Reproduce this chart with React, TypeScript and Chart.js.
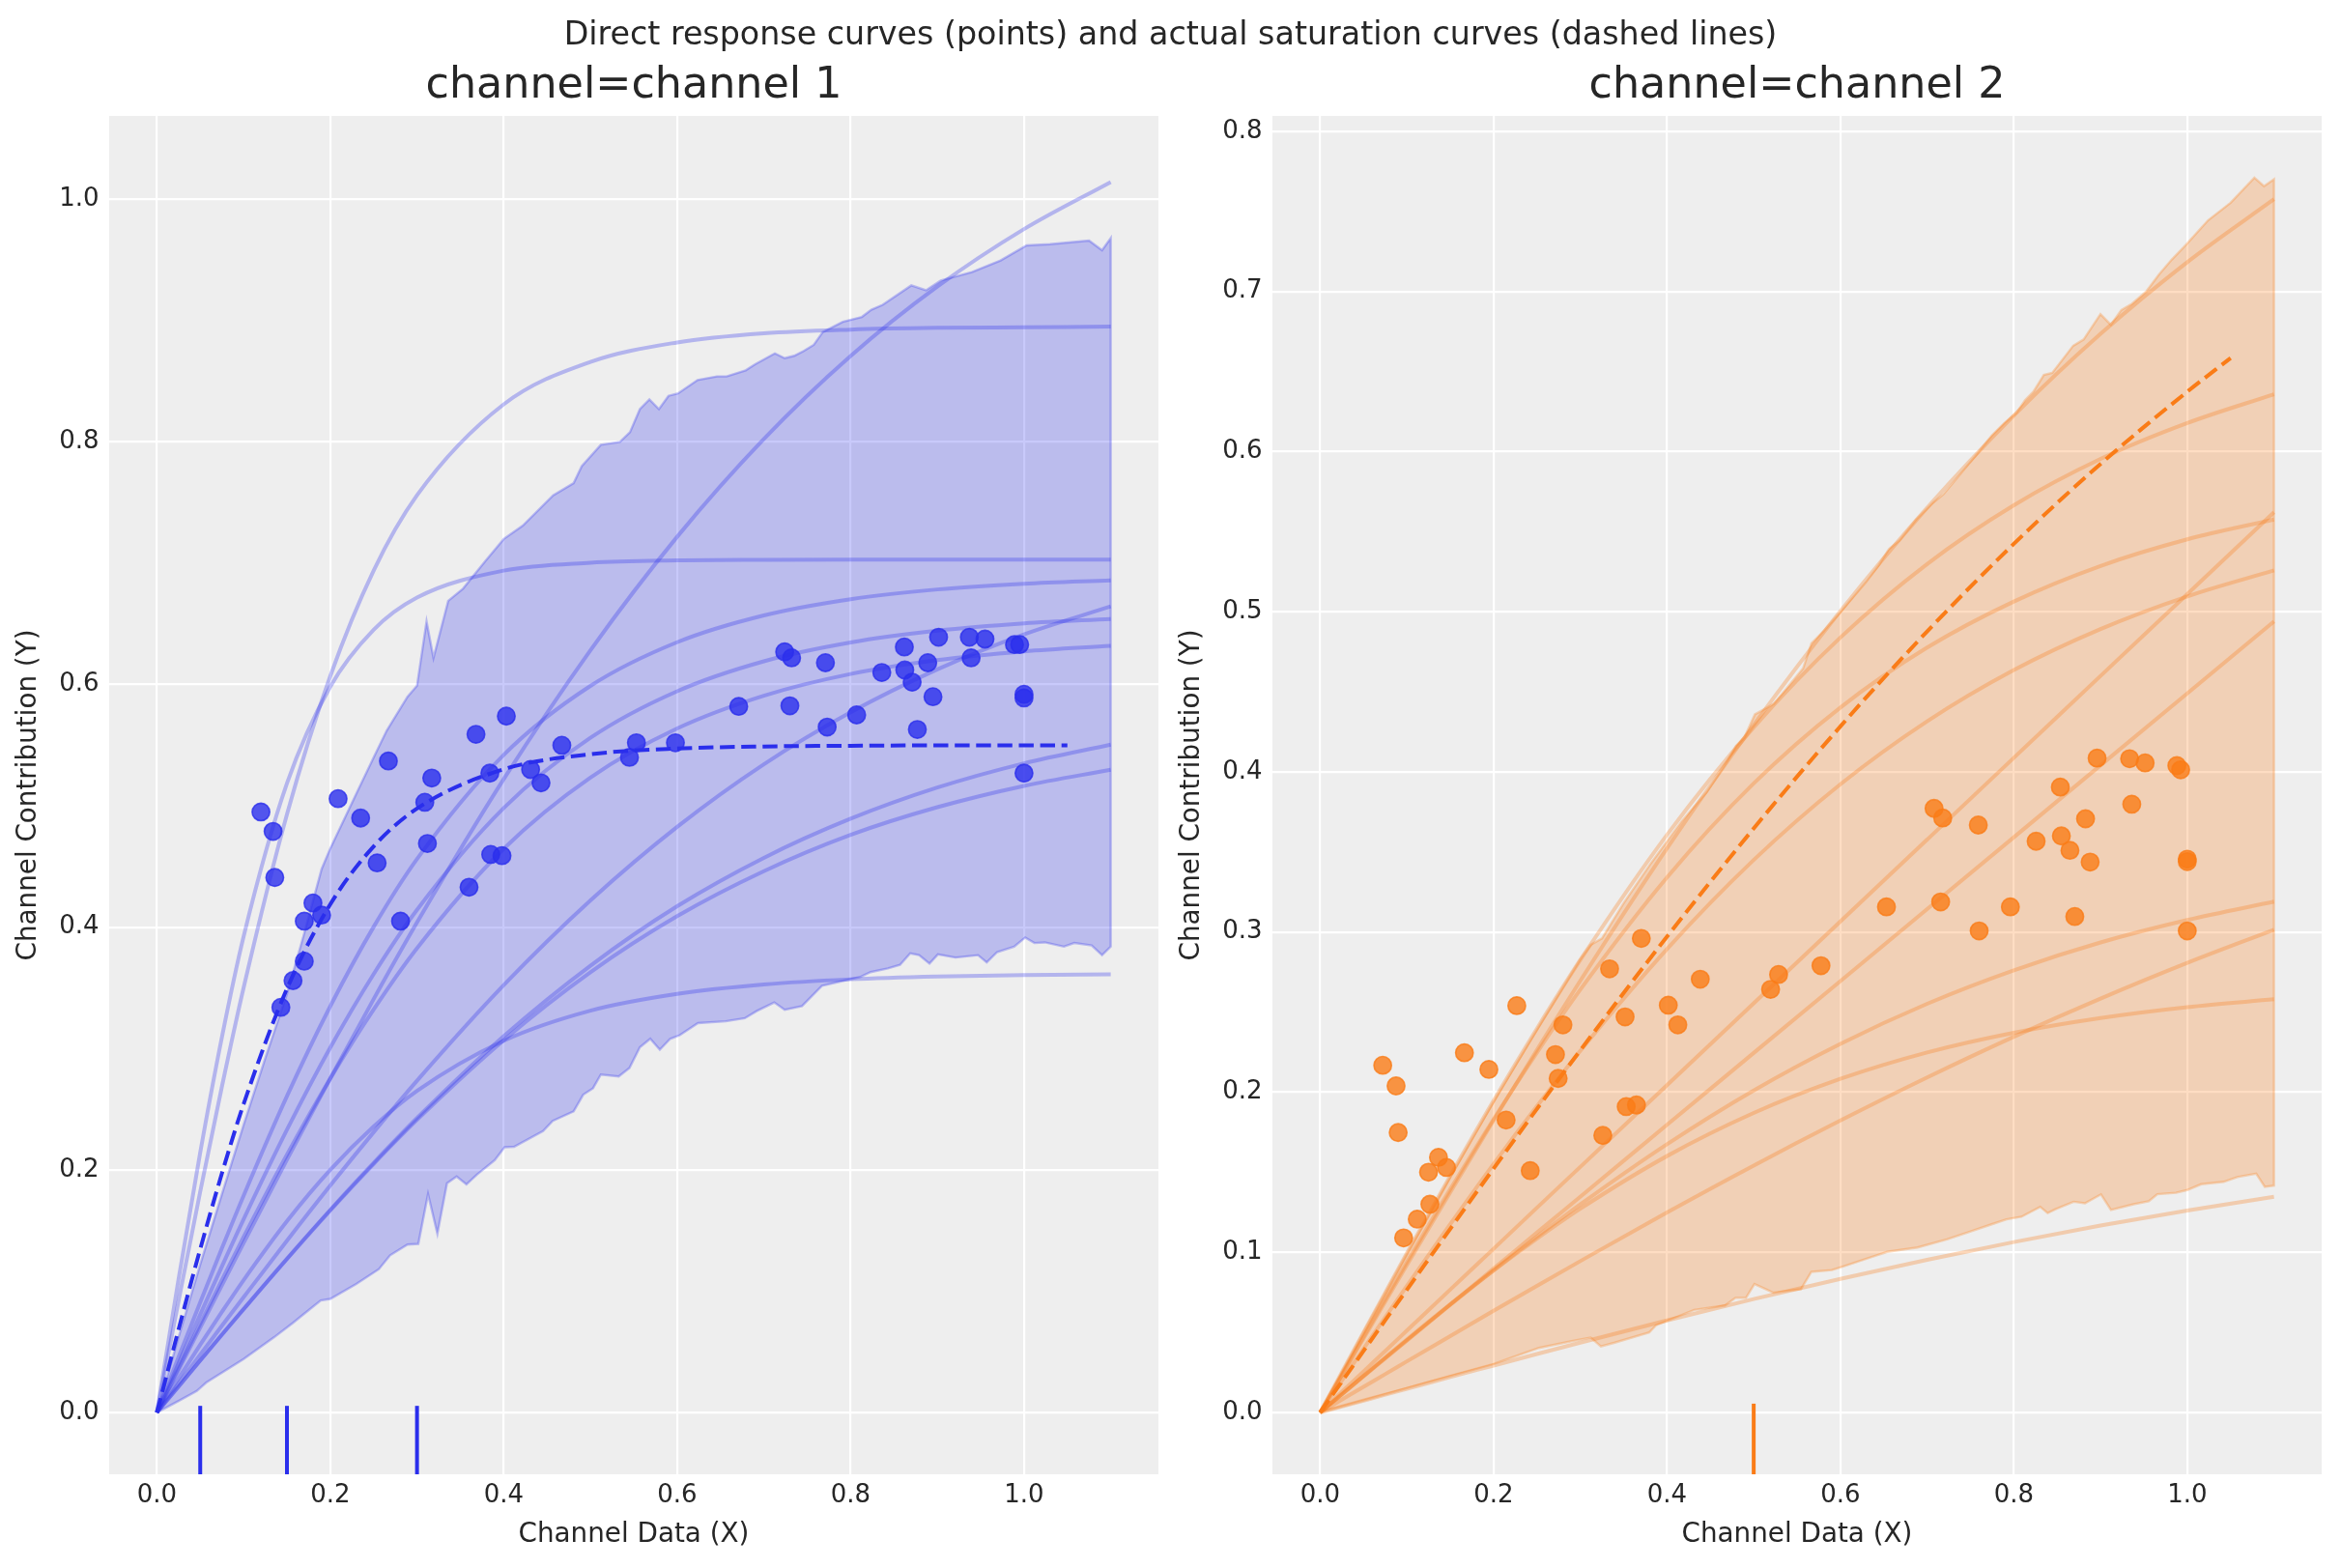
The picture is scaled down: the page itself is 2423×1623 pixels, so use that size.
import React, { useEffect, useRef } from 'react';
import { Chart, registerables } from 'chart.js';
Chart.register(...registerables);

// ---------- data ----------
const X_GRID = [0, 0.025, 0.05, 0.075, 0.1, 0.15, 0.2, 0.25, 0.3, 0.4, 0.5, 0.6, 0.7, 0.8, 0.9, 1.0, 1.1];

// channel 1 sampled curves
const C1 = [0, 0.0351, 0.0701, 0.105, 0.1397, 0.2084, 0.2755, 0.3408, 0.4039, 0.5221, 0.6283, 0.7218, 0.8024, 0.8708, 0.928, 0.9754, 1.0142];
const C2 = [0, 0.0918, 0.1822, 0.2686, 0.35, 0.493, 0.607, 0.694, 0.756, 0.831, 0.866, 0.882, 0.8895, 0.8926, 0.894, 0.8945, 0.895];
const C3 = [0, 0.1098, 0.2144, 0.3094, 0.3923, 0.5185, 0.5983, 0.6452, 0.6717, 0.6939, 0.7004, 0.7023, 0.7028, 0.703, 0.703, 0.703, 0.703];
const C4 = [0, 0.0457, 0.0909, 0.1354, 0.1787, 0.2607, 0.3349, 0.4003, 0.4562, 0.5421, 0.5989, 0.6349, 0.657, 0.6704, 0.6784, 0.6831, 0.6859];
const C5 = [0, 0.0405, 0.0808, 0.1204, 0.1592, 0.233, 0.3008, 0.3614, 0.4143, 0.4982, 0.5561, 0.5945, 0.6192, 0.6347, 0.6444, 0.6504, 0.6541];
const C6 = [0, 0.0239, 0.0477, 0.0715, 0.095, 0.1416, 0.1871, 0.2311, 0.2735, 0.3523, 0.4221, 0.4827, 0.5343, 0.5771, 0.6125, 0.6414, 0.6644];
const C7 = [0, 0.0368, 0.0733, 0.1093, 0.1446, 0.2125, 0.2753, 0.3322, 0.3827, 0.4647, 0.5234, 0.5638, 0.5908, 0.6087, 0.6201, 0.6273, 0.6319];
const C8 = [0, 0.0214, 0.0428, 0.0641, 0.0852, 0.1268, 0.1671, 0.2058, 0.2427, 0.3102, 0.3683, 0.4173, 0.4572, 0.4894, 0.5151, 0.5351, 0.5505];
const C9 = [0, 0.0214, 0.0428, 0.0641, 0.0852, 0.1265, 0.1666, 0.2049, 0.2412, 0.3069, 0.3629, 0.4091, 0.4462, 0.4761, 0.4989, 0.5165, 0.5298];
const C10 = [0, 0.0281, 0.0559, 0.0829, 0.1091, 0.1577, 0.2, 0.2357, 0.2651, 0.3064, 0.3312, 0.345, 0.3528, 0.3571, 0.3594, 0.3606, 0.3612];

// channel 2 sampled curves
const R1 = [0, 0.0231, 0.0461, 0.0691, 0.092, 0.1374, 0.1823, 0.2264, 0.2695, 0.3522, 0.4293, 0.5004, 0.5649, 0.6225, 0.6735, 0.7183, 0.7576];
const R2 = [0, 0.025, 0.0499, 0.0747, 0.0994, 0.1477, 0.1947, 0.2397, 0.2825, 0.3607, 0.4278, 0.4839, 0.5298, 0.5665, 0.5954, 0.6178, 0.6358];
const R3 = [0, 0.0236, 0.0472, 0.0706, 0.0938, 0.1393, 0.1831, 0.2247, 0.264, 0.3341, 0.3928, 0.4402, 0.4776, 0.5064, 0.5286, 0.5452, 0.5576];
const R4 = [0, 0.0128, 0.0256, 0.0383, 0.0511, 0.0767, 0.1022, 0.1278, 0.1533, 0.2044, 0.2555, 0.3066, 0.3577, 0.4088, 0.4599, 0.511, 0.5621];
const R5 = [0, 0.0199, 0.0397, 0.0594, 0.079, 0.1175, 0.1551, 0.1912, 0.2258, 0.2894, 0.345, 0.3923, 0.4316, 0.4636, 0.4892, 0.5096, 0.5258];
const R6 = [0, 0.0112, 0.0225, 0.0337, 0.0449, 0.0674, 0.0898, 0.1123, 0.1347, 0.1796, 0.2245, 0.2694, 0.3143, 0.3592, 0.4041, 0.449, 0.4939];
const R7 = [0, 0.0113, 0.0226, 0.0339, 0.0451, 0.0672, 0.0888, 0.1097, 0.1299, 0.1675, 0.2011, 0.2302, 0.2552, 0.2761, 0.2935, 0.3075, 0.319];
const R8 = [0, 0.008, 0.016, 0.0239, 0.0319, 0.0477, 0.0635, 0.0791, 0.0945, 0.1249, 0.1542, 0.1823, 0.2092, 0.2346, 0.2584, 0.2807, 0.3014];
const R9 = [0, 0.0115, 0.0229, 0.0343, 0.0456, 0.0675, 0.0886, 0.1085, 0.1272, 0.1601, 0.187, 0.2083, 0.2248, 0.2371, 0.2463, 0.2531, 0.258];
const R10 = [0, 0.0037, 0.0074, 0.0111, 0.0147, 0.0221, 0.0293, 0.0365, 0.0436, 0.0575, 0.0708, 0.0834, 0.0953, 0.1064, 0.1167, 0.1261, 0.1347];

// actual saturation curves (dashed)
const DASH_X = [0, 0.025, 0.05, 0.075, 0.1, 0.15, 0.2, 0.25, 0.3, 0.4, 0.5, 0.6, 0.7, 0.8, 0.9, 1.0, 1.05];
const DASH1_Y = [0, 0.0684, 0.1347, 0.1971, 0.2542, 0.3493, 0.4189, 0.4666, 0.4978, 0.5302, 0.5426, 0.5473, 0.549, 0.5496, 0.5499, 0.55, 0.55];
const DASH2_Y = [0, 0.0192, 0.0384, 0.0575, 0.0766, 0.1146, 0.1523, 0.1895, 0.2261, 0.2971, 0.3647, 0.4284, 0.4877, 0.5424, 0.5923, 0.6374, 0.6584];

// HDI bands
const BAND1_UP_X = [0, 0.025, 0.05, 0.075, 0.1, 0.125, 0.15, 0.17, 0.19, 0.2, 0.23, 0.25, 0.265, 0.289, 0.3, 0.311, 0.319, 0.336, 0.353, 0.379, 0.4, 0.422, 0.457, 0.4806, 0.49, 0.512, 0.534, 0.5456, 0.557, 0.568, 0.579, 0.59, 0.601, 0.6236, 0.646, 0.657, 0.679, 0.69, 0.7127, 0.724, 0.735, 0.746, 0.7575, 0.768, 0.791, 0.813, 0.824, 0.837, 0.87, 0.887, 0.904, 0.94, 0.973, 1.003, 1.03, 1.06, 1.075, 1.09, 1.1];
const BAND1_UP_Y = [0, 0.062, 0.122, 0.18, 0.237, 0.292, 0.345, 0.395, 0.448, 0.465, 0.51, 0.54, 0.562, 0.59, 0.599, 0.652, 0.622, 0.669, 0.679, 0.702, 0.72, 0.731, 0.756, 0.766, 0.78, 0.7976, 0.8, 0.808, 0.827, 0.835, 0.827, 0.838, 0.84, 0.851, 0.854, 0.854, 0.859, 0.864, 0.873, 0.869, 0.871, 0.875, 0.88, 0.8906, 0.899, 0.903, 0.909, 0.913, 0.929, 0.925, 0.933, 0.94, 0.9496, 0.962, 0.963, 0.965, 0.966, 0.958, 0.968];
const BAND1_LO_X = [0, 0.025, 0.046, 0.057, 0.1, 0.135, 0.157, 0.169, 0.189, 0.2, 0.23, 0.256, 0.269, 0.289, 0.3015, 0.3127, 0.3235, 0.3346, 0.3457, 0.357, 0.369, 0.3896, 0.401, 0.412, 0.4453, 0.4565, 0.4806, 0.4917, 0.503, 0.512, 0.5326, 0.545, 0.557, 0.569, 0.58, 0.592, 0.603, 0.624, 0.656, 0.678, 0.692, 0.712, 0.724, 0.744, 0.767, 0.811, 0.823, 0.843, 0.857, 0.8688, 0.879, 0.891, 0.9007, 0.921, 0.947, 0.957, 0.969, 0.9886, 1.0014, 1.012, 1.024, 1.046, 1.058, 1.078, 1.09, 1.1];
const BAND1_LO_Y = [0, 0.0095, 0.0177, 0.0247, 0.044, 0.0619, 0.0739, 0.0809, 0.0924, 0.0936, 0.106, 0.1182, 0.1296, 0.1384, 0.139, 0.18, 0.1474, 0.189, 0.1945, 0.188, 0.196, 0.208, 0.2187, 0.219, 0.2319, 0.2404, 0.2482, 0.262, 0.2673, 0.2786, 0.277, 0.284, 0.301, 0.308, 0.299, 0.308, 0.311, 0.321, 0.3225, 0.325, 0.331, 0.338, 0.332, 0.335, 0.3517, 0.359, 0.363, 0.366, 0.369, 0.3785, 0.377, 0.37, 0.3776, 0.375, 0.377, 0.371, 0.3795, 0.384, 0.3915, 0.387, 0.3875, 0.384, 0.387, 0.385, 0.377, 0.384];
const BAND2_UP_X = [0, 0.05, 0.1, 0.15, 0.2, 0.25, 0.3, 0.312, 0.325, 0.35, 0.3815, 0.4169, 0.4459, 0.47, 0.4797, 0.4893, 0.5014, 0.5232, 0.557, 0.5666, 0.5811, 0.6004, 0.6294, 0.6439, 0.656, 0.668, 0.6873, 0.7067, 0.7187, 0.7308, 0.755, 0.7743, 0.7888, 0.8032, 0.8129, 0.8226, 0.8346, 0.8443, 0.8685, 0.8805, 0.8999, 0.9119, 0.924, 0.9361, 0.953, 0.9675, 0.982, 0.998, 1.024, 1.05, 1.0774, 1.0885, 1.1];
const BAND2_UP_Y = [0, 0.05, 0.099, 0.147, 0.194, 0.239, 0.283, 0.292, 0.296, 0.318, 0.343, 0.369, 0.3874, 0.407, 0.4162, 0.4215, 0.4359, 0.4424, 0.4646, 0.4803, 0.4882, 0.5, 0.5183, 0.5288, 0.5392, 0.5445, 0.5576, 0.568, 0.5733, 0.5811, 0.5968, 0.6099, 0.6177, 0.6243, 0.6321, 0.6374, 0.6479, 0.6491, 0.6661, 0.67, 0.6858, 0.6792, 0.6884, 0.6923, 0.7002, 0.7106, 0.7198, 0.7288, 0.7444, 0.7554, 0.771, 0.7657, 0.77];
const BAND2_LO_X = [0, 0.05, 0.1, 0.15, 0.2, 0.2523, 0.29, 0.3119, 0.3238, 0.3397, 0.3795, 0.3875, 0.4313, 0.467, 0.479, 0.4911, 0.5009, 0.5228, 0.5545, 0.5665, 0.59, 0.6024, 0.6367, 0.654, 0.689, 0.7228, 0.7486, 0.7744, 0.7916, 0.8088, 0.8304, 0.839, 0.848, 0.869, 0.882, 0.9005, 0.912, 0.938, 0.9556, 0.9655, 0.987, 1.0, 1.016, 1.042, 1.0577, 1.0795, 1.0894, 1.1];
const BAND2_LO_Y = [0, 0.0075, 0.0152, 0.0228, 0.0302, 0.0403, 0.0445, 0.0468, 0.0413, 0.0436, 0.05, 0.0545, 0.064, 0.0668, 0.0716, 0.0716, 0.0802, 0.0748, 0.077, 0.0878, 0.0889, 0.091, 0.0972, 0.1003, 0.103, 0.1081, 0.1128, 0.1175, 0.1206, 0.1222, 0.1284, 0.1245, 0.1269, 0.1316, 0.1306, 0.1362, 0.1265, 0.13, 0.1319, 0.1363, 0.1372, 0.1389, 0.1425, 0.144, 0.147, 0.1491, 0.1409, 0.1416];

// direct response points
const PTS1_X = [0.12, 0.134, 0.136, 0.18, 0.19, 0.17, 0.17, 0.157, 0.143, 0.209, 0.235, 0.267, 0.254, 0.281, 0.309, 0.317, 0.312, 0.368, 0.403, 0.384, 0.385, 0.398, 0.36, 0.431, 0.443, 0.467, 0.553, 0.545, 0.598, 0.671, 0.73, 0.724, 0.732, 0.771, 0.773, 0.807, 0.836, 0.862, 0.8625, 0.871, 0.877, 0.889, 0.895, 0.9015, 0.937, 0.939, 0.955, 0.989, 0.995, 1.0, 1.0, 1.0];
const PTS1_Y = [0.495, 0.479, 0.441, 0.42, 0.41, 0.405, 0.372, 0.356, 0.334, 0.506, 0.49, 0.537, 0.453, 0.405, 0.503, 0.523, 0.469, 0.559, 0.574, 0.527, 0.46, 0.459, 0.433, 0.53, 0.519, 0.55, 0.552, 0.54, 0.552, 0.582, 0.5825, 0.627, 0.622, 0.618, 0.565, 0.575, 0.61, 0.631, 0.612, 0.602, 0.563, 0.618, 0.59, 0.639, 0.639, 0.622, 0.6375, 0.633, 0.633, 0.592, 0.589, 0.527];
const PTS2_X = [0.0722, 0.0876, 0.09, 0.1365, 0.1457, 0.125, 0.1266, 0.112, 0.0963, 0.1664, 0.1946, 0.2268, 0.2145, 0.2423, 0.28, 0.2714, 0.2745, 0.3338, 0.3704, 0.3517, 0.353, 0.3648, 0.326, 0.4384, 0.4015, 0.4125, 0.5287, 0.5195, 0.5776, 0.6531, 0.7156, 0.76, 0.796, 0.8703, 0.708, 0.718, 0.759, 0.8257, 0.8548, 0.8647, 0.888, 0.8827, 0.8536, 0.896, 0.9335, 0.9514, 0.988, 0.9924, 0.936, 1.0, 1.0, 1.0];
const PTS2_Y = [0.2168, 0.2039, 0.1748, 0.1593, 0.153, 0.15, 0.13, 0.1207, 0.109, 0.2246, 0.2142, 0.254, 0.1826, 0.151, 0.242, 0.2235, 0.2086, 0.277, 0.296, 0.247, 0.191, 0.192, 0.173, 0.2705, 0.2543, 0.242, 0.2735, 0.2642, 0.279, 0.3157, 0.3188, 0.3007, 0.3157, 0.3097, 0.3772, 0.3712, 0.3668, 0.3567, 0.36, 0.351, 0.3437, 0.3707, 0.3905, 0.4086, 0.4082, 0.4056, 0.4039, 0.4013, 0.3798, 0.3455, 0.344, 0.3007];

// rug (x positions) and ticks
const RUG1 = [0.05, 0.15, 0.3];
const RUG2 = [0.5];
const RUG_TOP = 0.0055;
const X_TICKS = [0, 0.2, 0.4, 0.6, 0.8, 1.0];
const Y1_TICKS = [0, 0.2, 0.4, 0.6, 0.8, 1.0];
const Y2_TICKS = [0, 0.1, 0.2, 0.3, 0.4, 0.5, 0.6, 0.7, 0.8];
const X_RANGE = [-0.055, 1.155];
const Y1_RANGE = [-0.0509, 1.0687];
const Y2_RANGE = [-0.0386, 0.8096];

// ---------- styling helpers ----------
const BLUE = [42, 46, 236];
const ORANGE = [250, 124, 23];
const TEXT = '#262626';
const rgba = (c: number[], a: number) => `rgba(${c[0]},${c[1]},${c[2]},${a})`;
const toXY = (xs: number[], ys: number[]) => xs.map((x, i) => ({ x, y: ys[i] }));

const bgPlugin = {
  id: 'axbg',
  beforeDraw(chart: any) {
    const { ctx, chartArea: a } = chart;
    ctx.save();
    ctx.fillStyle = '#eeeeee';
    ctx.fillRect(a.left, a.top, a.right - a.left, a.bottom - a.top);
    ctx.restore();
  },
};

function makeConfig(p: any) {
  const col = p.color;
  const datasets: any[] = [];
  const band = [...toXY(p.loX, p.loY), ...toXY(p.upX, p.upY).reverse()];
  datasets.push({
    data: band, fill: 'shape', backgroundColor: rgba(col, 0.26), borderColor: rgba(col, 0.28),
    borderWidth: 2.4, pointRadius: 0, tension: 0, order: 10,
  });
  p.curves.forEach((c: number[]) => {
    datasets.push({
      data: toXY(X_GRID, c), borderColor: rgba(col, 0.3), borderWidth: 4, pointRadius: 0,
      fill: false, cubicInterpolationMode: 'monotone', order: 8,
    });
  });
  datasets.push({
    data: toXY(p.ptsX, p.ptsY), showLine: false, pointRadius: 9.1, pointBorderWidth: 1.6,
    pointBackgroundColor: rgba(col, 0.8), pointBorderColor: rgba(col, 0.8), order: 6,
  });
  datasets.push({
    data: toXY(DASH_X, p.dashY), borderColor: rgba(col, 1), borderWidth: 4, borderDash: [15.4, 6.7],
    pointRadius: 0, fill: false, cubicInterpolationMode: 'monotone', order: 4,
  });
  p.rug.forEach((rx: number) => {
    datasets.push({
      data: [{ x: rx, y: p.yRange[0] }, { x: rx, y: RUG_TOP }], borderColor: rgba(col, 1), borderWidth: 4,
      pointRadius: 0, fill: false, order: 2,
    });
  });

  return {
    type: 'line',
    data: { datasets },
    plugins: [bgPlugin],
    options: {
      animation: false,
      responsive: false,
      events: [],
      layout: { padding: { left: 0, right: p.padRight, top: 0, bottom: 0 }, autoPadding: false },
      plugins: {
        legend: { display: false },
        tooltip: { enabled: false },
        title: {
          display: true, text: p.title, color: TEXT, fullSize: false,
          font: { size: 44.4, weight: 'normal' }, padding: { top: 63, bottom: 3.7 },
        },
      },
      scales: {
        x: {
          type: 'linear', min: X_RANGE[0], max: X_RANGE[1],
          afterBuildTicks: (s: any) => { s.ticks = X_TICKS.map((v) => ({ value: v })); },
          afterFit: (s: any) => { s.height = 97; },
          ticks: { callback: (v: any) => Number(v).toFixed(1), padding: 6.6, color: TEXT, font: { size: 26 }, maxRotation: 0, autoSkip: false },
          grid: { color: '#ffffff', lineWidth: 2.2, drawTicks: false },
          border: { display: false },
          title: { display: true, text: 'Channel Data (X)', color: TEXT, font: { size: 27.8 }, padding: { top: 0, bottom: 17.9 } },
        },
        y: {
          type: 'linear', min: p.yRange[0], max: p.yRange[1],
          afterBuildTicks: (s: any) => { s.ticks = p.yTicks.map((v: number) => ({ value: v })); },
          afterFit: (s: any) => { s.width = p.yWidth; },
          ticks: { callback: (v: any) => Number(v).toFixed(1), padding: 10.5, color: TEXT, font: { size: 26 }, autoSkip: false },
          grid: { color: '#ffffff', lineWidth: 2.2, drawTicks: false },
          border: { display: false },
          title: { display: true, text: 'Channel Contribution (Y)', color: TEXT, font: { size: 27.8 }, padding: { top: p.yTitlePad, bottom: 0 } },
        },
      },
    },
  } as any;
}

export default function App() {
  const c1 = useRef<HTMLCanvasElement>(null);
  const c2 = useRef<HTMLCanvasElement>(null);

  useEffect(() => {
    document.body.style.margin = '0';
    Chart.defaults.font.family = "'DejaVu Sans', sans-serif";
    const ch1 = new Chart(c1.current as HTMLCanvasElement, makeConfig({
      color: BLUE, title: 'channel=channel 1',
      curves: [C1, C2, C3, C4, C5, C6, C7, C8, C9, C10],
      upX: BAND1_UP_X, upY: BAND1_UP_Y, loX: BAND1_LO_X, loY: BAND1_LO_Y,
      ptsX: PTS1_X, ptsY: PTS1_Y, dashY: DASH1_Y, rug: RUG1,
      yRange: Y1_RANGE, yTicks: Y1_TICKS, yWidth: 113, padRight: 12, yTitlePad: 13.3,
    }));
    const ch2 = new Chart(c2.current as HTMLCanvasElement, makeConfig({
      color: ORANGE, title: 'channel=channel 2',
      curves: [R1, R2, R3, R4, R5, R6, R7, R8, R9, R10],
      upX: BAND2_UP_X, upY: BAND2_UP_Y, loX: BAND2_LO_X, loY: BAND2_LO_Y,
      ptsX: PTS2_X, ptsY: PTS2_Y, dashY: DASH2_Y, rug: RUG2,
      yRange: Y2_RANGE, yTicks: Y2_TICKS, yWidth: 106, padRight: 20, yTitlePad: 6.3,
    }));
    return () => { ch1.destroy(); ch2.destroy(); };
  }, []);

  return (
    <div style={{ position: 'relative', width: 2423, height: 1623, background: '#ffffff', overflow: 'hidden' }}>
      <canvas ref={c1} width={1211} height={1623} style={{ position: 'absolute', left: 0, top: 0, width: 1211, height: 1623 }} />
      <canvas ref={c2} width={1212} height={1623} style={{ position: 'absolute', left: 1211, top: 0, width: 1212, height: 1623 }} />
      <div style={{
        position: 'absolute', left: 0, top: 15.3, width: 2423, textAlign: 'center',
        fontFamily: "'DejaVu Sans', sans-serif", fontSize: 33.3, lineHeight: '40px', color: TEXT,
        whiteSpace: 'nowrap', pointerEvents: 'none',
      }}>
        Direct response curves (points) and actual saturation curves (dashed lines)
      </div>
    </div>
  );
}
